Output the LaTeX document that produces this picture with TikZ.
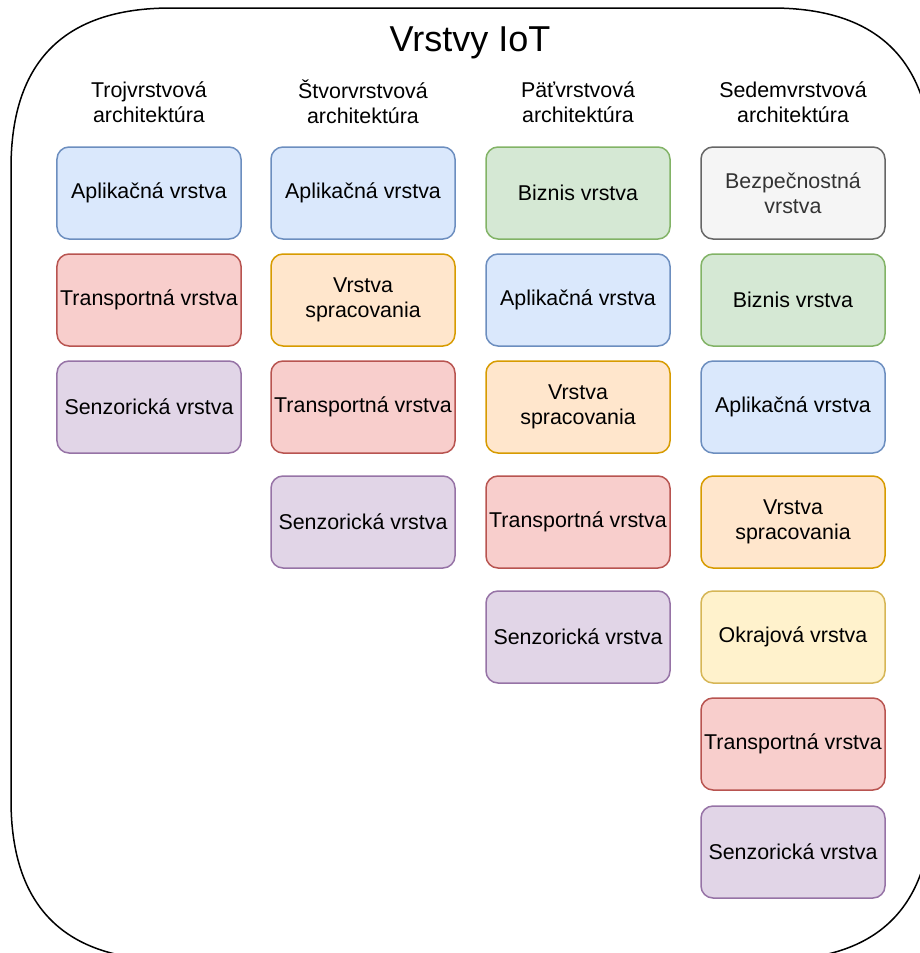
\documentclass[tikz,border=0pt]{standalone}
\usepackage{fontspec}
\setmainfont{Liberation Sans}
\definecolor{blueF}{HTML}{DAE8FC}\definecolor{blueD}{HTML}{6C8EBF}
\definecolor{redF}{HTML}{F8CECC}\definecolor{redD}{HTML}{B85450}
\definecolor{violetF}{HTML}{E1D5E7}\definecolor{violetD}{HTML}{9673A6}
\definecolor{orangeF}{HTML}{FFE6CC}\definecolor{orangeD}{HTML}{D79B00}
\definecolor{greenF}{HTML}{D5E8D4}\definecolor{greenD}{HTML}{82B366}
\definecolor{grayF}{HTML}{F5F5F5}\definecolor{grayD}{HTML}{666666}\definecolor{grayT}{HTML}{333333}
\definecolor{yellowF}{HTML}{FFF2CC}\definecolor{yellowD}{HTML}{D6B656}
\begin{document}
\begin{tikzpicture}[x=1bp, y=-1bp,
  layer/.style={draw, rounded corners=12bp, line width=1.5bp, minimum width=184bp,
    minimum height=92bp, inner sep=0pt, align=center,
    font=\fontsize{21.4bp}{24.5bp}\selectfont},
  head/.style={align=center, font=\fontsize{21.4bp}{25bp}\selectfont},
  apl/.style={layer, fill=blueF, draw=blueD},
  tra/.style={layer, fill=redF, draw=redD},
  sen/.style={layer, fill=violetF, draw=violetD},
  spr/.style={layer, fill=orangeF, draw=orangeD},
  biz/.style={layer, fill=greenF, draw=greenD},
  bez/.style={layer, fill=grayF, draw=grayD, text=grayT},
  okr/.style={layer, fill=yellowF, draw=yellowD}]
  \useasboundingbox (0,0) rectangle (920,953);
  \clip (0,0) rectangle (920,953);
  % outer frame
  \draw[line width=1.5bp] (11,168) .. controls (11,61.3) and (64.3,8) .. (171,8)
    -- (772,8) .. controls (878.7,8) and (932,61.3) .. (932,168)
    -- (932,800) .. controls (932,906.7) and (878.7,960) .. (772,960)
    -- (171,960) .. controls (64.3,960) and (11,906.7) .. (11,800) -- cycle;
  \node[font=\fontsize{36bp}{40bp}\selectfont] (title) at (470,43) {Vrstvy IoT};

  % headers
  \node[head] (h3) at (149,102) {Trojvrstvová\\architektúra};
  \node[head] (h4) at (363,102) {Štvorvrstvová\\architektúra};
  \node[head] (h5) at (578,102) {Päťvrstvová\\architektúra};
  \node[head] (h7) at (793,102) {Sedemvrstvová\\architektúra};

  % three layers
  \node[apl] (a3) at (149,193) {Aplikačná vrstva};
  \node[tra] (t3) at (149,300) {Transportná vrstva};
  \node[sen] (s3) at (149,407) {Senzorická vrstva};

  % four layers
  \node[apl] (a4) at (363,193) {Aplikačná vrstva};
  \node[spr] (p4) at (363,300) {Vrstva\\spracovania};
  \node[tra] (t4) at (363,407) {Transportná vrstva};
  \node[sen] (s4) at (363,522) {Senzorická vrstva};

  % five layers
  \node[biz] (b5) at (578,193) {Biznis vrstva};
  \node[apl] (a5) at (578,300) {Aplikačná vrstva};
  \node[spr] (p5) at (578,407) {Vrstva\\spracovania};
  \node[tra] (t5) at (578,522) {Transportná vrstva};
  \node[sen] (s5) at (578,637) {Senzorická vrstva};

  % seven layers
  \node[bez] (z7) at (793,193) {Bezpečnostná\\vrstva};
  \node[biz] (b7) at (793,300) {Biznis vrstva};
  \node[apl] (a7) at (793,407) {Aplikačná vrstva};
  \node[spr] (p7) at (793,522) {Vrstva\\spracovania};
  \node[okr] (o7) at (793,637) {Okrajová vrstva};
  \node[tra] (t7) at (793,744) {Transportná vrstva};
  \node[sen] (s7) at (793,852) {Senzorická vrstva};
\end{tikzpicture}
\end{document}
